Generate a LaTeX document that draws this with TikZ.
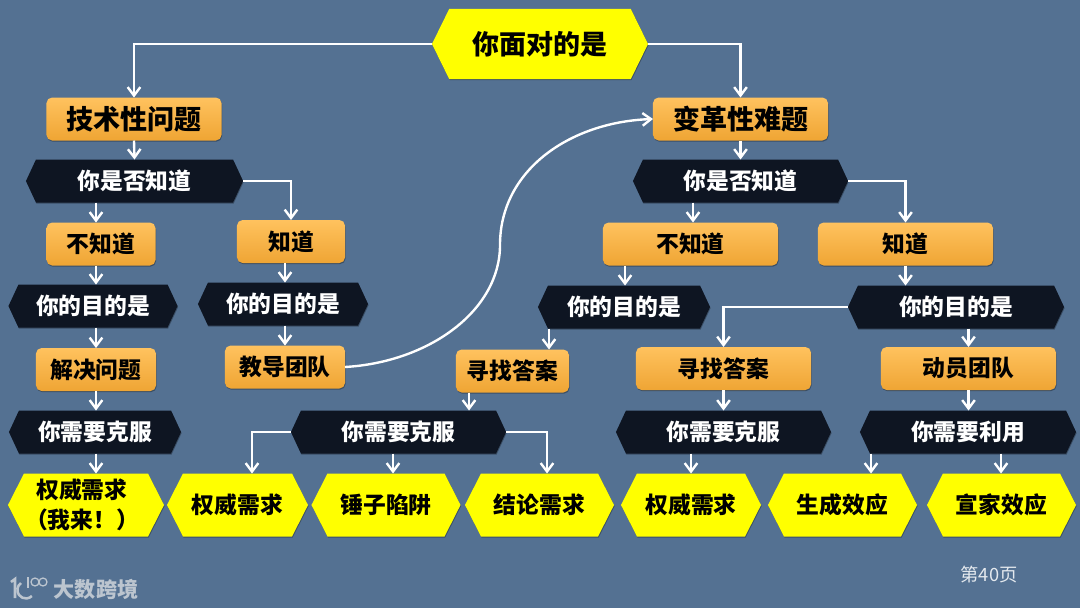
\documentclass[tikz,border=0pt]{standalone}
\usepackage{fontspec}
\setmainfont{Noto Sans CJK SC}
\usepackage{tikz}
\usetikzlibrary{shadows,arrows.meta}
\definecolor{slate}{HTML}{547192}
\definecolor{ink}{HTML}{0E1522}
\definecolor{amber}{HTML}{FFC25E}
\definecolor{amberlow}{HTML}{EFA534}
\definecolor{lemon}{HTML}{FFFF00}
\definecolor{logo}{HTML}{BCC5CF}
\definecolor{pagemark}{HTML}{E4E9EE}
\makeatletter
\pgfdeclareshape{hexbox}{
  \inheritsavedanchors[from=rectangle]
  \inheritanchorborder[from=rectangle]
  \inheritanchor[from=rectangle]{center}
  \inheritanchor[from=rectangle]{north}
  \inheritanchor[from=rectangle]{south}
  \inheritanchor[from=rectangle]{west}
  \inheritanchor[from=rectangle]{east}
  \backgroundpath{
    \southwest \pgf@xa=\pgf@x \pgf@ya=\pgf@y
    \northeast \pgf@xb=\pgf@x \pgf@yb=\pgf@y
    \pgfmathsetlength\pgf@xc{\hexinset}
    \pgf@yc=0.5\pgf@ya \advance\pgf@yc by 0.5\pgf@yb
    \pgfpathmoveto{\pgfqpoint{\pgf@xa}{\pgf@yc}}
    \pgfpathlineto{\pgfqpoint{\dimexpr\pgf@xa+\pgf@xc}{\pgf@yb}}
    \pgfpathlineto{\pgfqpoint{\dimexpr\pgf@xb-\pgf@xc}{\pgf@yb}}
    \pgfpathlineto{\pgfqpoint{\pgf@xb}{\pgf@yc}}
    \pgfpathlineto{\pgfqpoint{\dimexpr\pgf@xb-\pgf@xc}{\pgf@ya}}
    \pgfpathlineto{\pgfqpoint{\dimexpr\pgf@xa+\pgf@xc}{\pgf@ya}}
    \pgfpathclose
  }
}
\makeatother
\tikzset{
  hex inset/.store in=\hexinset,
  hex inset=0.25cm,
  softshadow/.style={drop shadow={shadow xshift=0.4pt,shadow yshift=-0.8pt,opacity=0.3,fill=black}},
  orangebox/.style={top color=amber,bottom color=amberlow,rounded corners=4pt,minimum height=1.075cm,font=\fontsize{16.2}{19}\selectfont\bfseries,text=black,softshadow},
  darkhex/.style={hexbox,fill=ink,minimum height=1.075cm,font=\fontsize{16.2}{19}\selectfont\bfseries,text=white,softshadow},
  yellowhex/.style={hexbox,hex inset=0.4cm,fill=lemon,minimum height=1.575cm,font=\fontsize{16.2}{19}\selectfont\bfseries,align=center,text=black,softshadow},
  link/.style={draw=white,line width=1.7pt,-{Straight Barb[length=6pt,width=9pt,line width=1.7pt]}},
}
\begin{document}
\begin{tikzpicture}[x=0.025cm,y=-0.025cm,inner sep=0pt,outer sep=0pt]
  \fill[slate] (0,0) rectangle (1080,608);
  \useasboundingbox (0,0) rectangle (1080,608);
  % top of the tree
  \node[yellowhex,hex inset=0.43cm,minimum width=5.4cm,minimum height=1.75cm,font=\fontsize{19.2}{23}\selectfont\bfseries] (face) at (540,44) {你面对的是};
  \node[orangebox,minimum width=4.375cm,font=\fontsize{19.2}{23}\selectfont\bfseries] (tech) at (134,119) {技术性问题};
  \node[orangebox,minimum width=4.375cm,font=\fontsize{19.2}{23}\selectfont\bfseries] (adapt) at (740.5,119) {变革性难题};
  % left half
  \node[darkhex,minimum width=5.425cm] (techknow) at (134.5,181) {你是否知道};
  \node[orangebox,minimum width=2.725cm] (techno) at (101,244) {不知道};
  \node[orangebox,minimum width=2.7cm] (techyes) at (291,241.5) {知道};
  \node[darkhex,minimum width=4.225cm] (nogoal) at (93,306) {你的目的是};
  \node[darkhex,minimum width=4.25cm] (yesgoal) at (283,304) {你的目的是};
  \node[orangebox,minimum width=3cm] (solve) at (96,369.5) {解决问题};
  \node[orangebox,minimum width=3cm] (teach) at (285,367) {教导团队};
  \node[darkhex,minimum width=4.3cm] (solvebeat) at (95,432) {你需要克服};
  % right half
  \node[darkhex,minimum width=5.375cm] (adaptknow) at (740.5,181) {你是否知道};
  \node[orangebox,minimum width=4.375cm] (adaptno) at (690.5,244) {不知道};
  \node[orangebox,minimum width=4.375cm] (adaptyes) at (905.5,244) {知道};
  \node[darkhex,minimum width=4.3cm] (adnogoal) at (624,307) {你的目的是};
  \node[darkhex,minimum width=5.4cm] (adyesgoal) at (956,307) {你的目的是};
  \node[orangebox,minimum width=2.825cm] (findl) at (512.5,371) {寻找答案};
  \node[orangebox,minimum width=4.375cm] (findr) at (723.5,368.5) {寻找答案};
  \node[orangebox,minimum width=4.375cm] (rally) at (968.5,368.5) {动员团队};
  \node[darkhex,minimum width=5.375cm] (findlbeat) at (398.5,432) {你需要克服};
  \node[darkhex,minimum width=5.375cm] (findrbeat) at (723.5,432) {你需要克服};
  \node[darkhex,minimum width=5.4cm] (rallyuse) at (968,432) {你需要利用};
  % bottom row
  \node[yellowhex,minimum width=3.9cm,font=\fontsize{16.2}{21}\selectfont\bfseries] (auth1) at (86,505) {权威需求\hspace*{0.2cm}\\（我来！）\hspace*{0.2cm}};
  \node[yellowhex,minimum width=3.525cm] (auth2) at (237.5,505) {权威需求};
  \node[yellowhex,minimum width=3.725cm] (hammer) at (386,505) {锤子陷阱};
  \node[yellowhex,minimum width=3.725cm] (verdict) at (539.5,505) {结论需求};
  \node[yellowhex,minimum width=3.5cm] (auth3) at (691,505) {权威需求};
  \node[yellowhex,minimum width=3.725cm] (gener) at (842.5,505) {生成效应};
  \node[yellowhex,minimum width=3.725cm] (holding) at (1001.5,505) {宣家效应};
  % page mark and logo
  \node[font=\fontsize{13}{15}\selectfont,text=pagemark] (page) at (989,575) {第40页};
  \node[font=\fontsize{15}{18}\selectfont\bfseries,text=logo] (brand) at (96,589) {大数跨境};
  \draw[logo,line width=1.8pt] (11,582) -- (15,579) -- (15,598);
  \draw[logo,line width=1.8pt] (26,590) ++(-5,-7) arc[start angle=235,end angle=45,radius=8.5];
  \draw[logo,line width=0.9pt] (28,577) -- (28,588);
  \draw[logo,line width=0.9pt] (35,582) circle[radius=4] (43,582) circle[radius=4];
  % helpers for the arrows that leave a box off its middle
  \coordinate (xa) at (693,181);
  \coordinate (xb) at (625,244);
  \coordinate (xc) at (549,307);
  \coordinate (xd) at (469,371);
  \coordinate (xe) at (393,432);
  \coordinate (xf) at (691,432);
  \coordinate (xg) at (871,432);
  \coordinate (xh) at (1001,432);
  \coordinate (xi) at (252,505);
  \coordinate (xj) at (547,505);
  \coordinate (bend) at (500,245);
  % connectors
  \draw[link] (face.west) -| (tech.north);
  \draw[link] (face.east) -| (adapt.north);
  \draw[link] (tech.south) -- (techknow.north);
  \draw[link] (techknow.south -| solve.north) -- (techno.north -| solve.north);
  \draw[link] (techknow.east) -| (techyes.north);
  \draw[link] (techno.south -| solve.north) -- (nogoal.north -| solve.north);
  \draw[link] (techyes.south -| teach.north) -- (yesgoal.north -| teach.north);
  \draw[link] (nogoal.south -| solve.north) -- (solve.north);
  \draw[link] (yesgoal.south -| teach.north) -- (teach.north);
  \draw[link] (solve.south) -- (solvebeat.north -| solve.south);
  \draw[link] (solvebeat.south -| solve.south) -- (auth1.north -| solve.south);
  \draw[link] (teach.east) .. controls (430,362) and (500,310) .. (bend) .. controls (500,170) and (570,122) .. (adapt.west);
  \draw[link] (adapt.south) -- (adaptknow.north);
  \draw[link] (adaptknow.south -| xa) -- (adaptno.north -| xa);
  \draw[link] (adaptknow.east) -| (adaptyes.north);
  \draw[link] (adaptno.south -| xb) -- (adnogoal.north -| xb);
  \draw[link] (adaptyes.south) -- (adyesgoal.north -| adaptyes.south);
  \draw[link] (adnogoal.south -| xc) -- (findl.north -| xc);
  \draw[link] (findl.south -| xd) -- (findlbeat.north -| xd);
  \draw[link] (adyesgoal.west) -| (findr.north);
  \draw[link] (adyesgoal.south -| rally.north) -- (rally.north);
  \draw[link] (findr.south) -- (findrbeat.north);
  \draw[link] (rally.south) -- (rallyuse.north -| rally.south);
  \draw[link] (findlbeat.west) -| (xi |- auth2.north);
  \draw[link] (findlbeat.south -| xe) -- (hammer.north -| xe);
  \draw[link] (findlbeat.east) -| (xj |- verdict.north);
  \draw[link] (findrbeat.south -| xf) -- (auth3.north -| xf);
  \draw[link] (rallyuse.south -| xg) -- (gener.north -| xg);
  \draw[link] (rallyuse.south -| xh) -- (holding.north -| xh);
\end{tikzpicture}
\end{document}
